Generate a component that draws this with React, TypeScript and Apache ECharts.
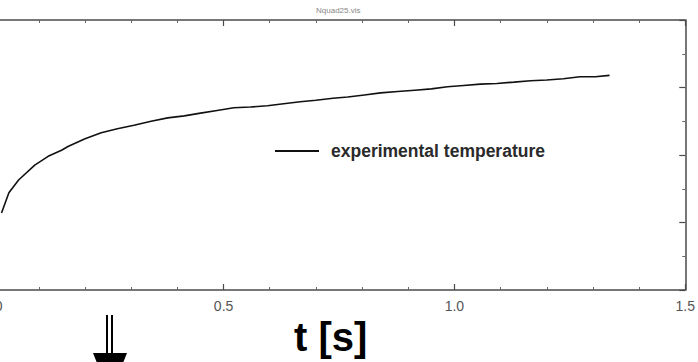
import { useEffect, useRef } from "react";
import * as echarts from "echarts";

// time [s] of the measured curve
const timeS = [
  0.019, 0.035, 0.056, 0.091, 0.12, 0.149, 0.164, 0.2, 0.235, 0.27, 0.306, 0.343, 0.379,
  0.415, 0.45, 0.486, 0.522, 0.558, 0.595, 0.63, 0.666, 0.7, 0.737, 0.769, 0.805, 0.84,
  0.877, 0.914, 0.95, 0.985, 1.02, 1.056, 1.092, 1.129, 1.165, 1.2, 1.236, 1.272, 1.305,
  1.336,
];
// experimental temperature (arbitrary units, axis labels cropped in the reference)
const temperature = [
  1.14, 1.44, 1.63, 1.85, 1.98, 2.07, 2.13, 2.24, 2.33, 2.39, 2.44, 2.5, 2.55, 2.58, 2.62,
  2.66, 2.7, 2.71, 2.73, 2.76, 2.79, 2.81, 2.84, 2.86, 2.89, 2.92, 2.94, 2.96, 2.98, 3.01,
  3.03, 3.05, 3.06, 3.08, 3.1, 3.11, 3.13, 3.16, 3.16, 3.18,
];
const xMin = 0;
const xMax = 1.5;
const xInterval = 0.5;
const yMin = 0;
const yMax = 4;
const yInterval = 1;
const seriesName = "experimental temperature";
const xAxisTitle = "t [s]";
const fileLabel = "Nquad25.vis";

const FONT = "'Liberation Sans', Arial, Helvetica, sans-serif";
// the reference is cropped: its left edge lies 9px right of t = 0
const SHIFT = 20;

function axisLine() {
  return { show: true, onZero: false, lineStyle: { color: "#4a4a4a", width: 1.5 } };
}
function axisTick() {
  return { show: true, inside: true, length: 6, lineStyle: { color: "#4a4a4a", width: 1.2 } };
}
function minorTick(n: number) {
  return { show: true, splitNumber: n, length: 3, lineStyle: { color: "#666", width: 1 } };
}

export default function App() {
  const ref = useRef<HTMLDivElement>(null);
  useEffect(() => {
    document.body.style.margin = "0";
    const chart = echarts.init(ref.current!, undefined, { renderer: "svg" });
    chart.setOption({
      animation: false,
      backgroundColor: "#ffffff",
      grid: { left: 11, right: 11, top: 20, bottom: 72, containLabel: false },
      legend: {
        left: 275 + SHIFT,
        top: 142,
        padding: 0,
        icon: "rect",
        itemWidth: 44,
        itemHeight: 2,
        data: [seriesName],
        textStyle: {
          fontFamily: FONT,
          fontSize: 17.5,
          fontWeight: "bold",
          color: "#2a2a2a",
          padding: [0, 0, 0, 7],
        },
      },
      xAxis: [
        {
          type: "value",
          position: "bottom",
          min: xMin,
          max: xMax,
          interval: xInterval,
          axisLine: axisLine(),
          axisTick: axisTick(),
          minorTick: minorTick(5),
          splitLine: { show: false },
          axisLabel: {
            show: true,
            margin: 9,
            fontFamily: FONT,
            fontSize: 14,
            color: "#555",
            formatter: (v: number) => v.toFixed(1),
          },
        },
        {
          type: "value",
          position: "top",
          min: xMin,
          max: xMax,
          interval: xInterval,
          axisLine: axisLine(),
          axisTick: axisTick(),
          minorTick: minorTick(5),
          splitLine: { show: false },
          axisLabel: { show: false },
        },
      ],
      yAxis: [
        {
          type: "value",
          position: "left",
          min: yMin,
          max: yMax,
          interval: yInterval,
          axisLine: axisLine(),
          axisTick: axisTick(),
          minorTick: minorTick(2),
          splitLine: { show: false },
          axisLabel: { show: false },
        },
        {
          type: "value",
          position: "right",
          min: yMin,
          max: yMax,
          interval: yInterval,
          axisLine: axisLine(),
          axisTick: axisTick(),
          minorTick: minorTick(2),
          splitLine: { show: false },
          axisLabel: { show: false },
        },
      ],
      series: [
        {
          name: seriesName,
          type: "line",
          xAxisIndex: 0,
          yAxisIndex: 0,
          data: timeS.map((t, i) => [t, temperature[i]]),
          showSymbol: false,
          symbol: "none",
          color: "#111",
          lineStyle: { color: "#111", width: 1.6 },
        },
      ],
      graphic: [
        {
          type: "text",
          left: 316 + SHIFT,
          top: 6,
          style: { text: fileLabel, fontFamily: FONT, fontSize: 8, fill: "#888" },
        },
        {
          type: "text",
          left: 294 + SHIFT,
          top: 317,
          style: {
            text: xAxisTitle,
            fontFamily: FONT,
            fontSize: 40,
            fontWeight: "bold",
            fill: "#000",
          },
        },
        {
          type: "rect",
          shape: { x: 106 + SHIFT, y: 315, width: 2, height: 39 },
          style: { fill: "#000" },
        },
        {
          type: "rect",
          shape: { x: 111 + SHIFT, y: 315, width: 2, height: 39 },
          style: { fill: "#000" },
        },
        {
          type: "polygon",
          shape: {
            points: [
              [93 + SHIFT, 353],
              [127 + SHIFT, 353],
              [121 + SHIFT, 368],
              [99 + SHIFT, 368],
            ],
          },
          style: { fill: "#000" },
        },
      ],
    });
    return () => chart.dispose();
  }, []);
  return (
    <div
      ref={ref}
      style={{ position: "absolute", left: -SHIFT, top: 0, width: 698 + SHIFT, height: 362 }}
    />
  );
}
